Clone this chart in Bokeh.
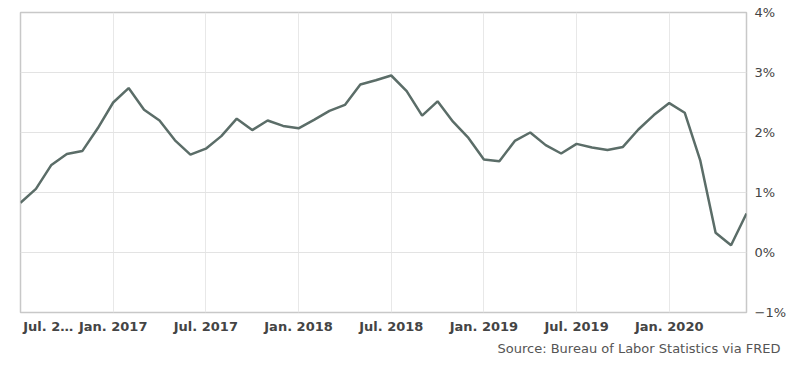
from bokeh.plotting import figure
from bokeh.models import FixedTicker, Title, LinearAxis, Grid
from bokeh.embed import file_html
from bokeh.resources import INLINE

start_year, start_month = 2016, 7
cpi_yoy = [0.83, 1.06, 1.46, 1.64, 1.69, 2.07, 2.50, 2.74, 2.38, 2.20, 1.87, 1.63,
           1.73, 1.94, 2.23, 2.04, 2.20, 2.11, 2.07, 2.21, 2.36, 2.46, 2.80, 2.87,
           2.95, 2.69, 2.28, 2.52, 2.18, 1.91, 1.55, 1.52, 1.86, 2.00, 1.79, 1.65,
           1.81, 1.75, 1.71, 1.76, 2.05, 2.29, 2.49, 2.33, 1.54, 0.33, 0.12, 0.65]
tick_months = [0, 6, 12, 18, 24, 30, 36, 42]
tick_labels = ["Jul. 2\u2026", "Jan. 2017", "Jul. 2017", "Jan. 2018", "Jul. 2018",
               "Jan. 2019", "Jul. 2019", "Jan. 2020"]
y_ticks = [-1, 0, 1, 2, 3, 4]
y_labels = ["\u22121%", "0%", "1%", "2%", "3%", "4%"]
source_text = "Source: Bureau of Labor Statistics via FRED"

x = list(range(len(cpi_yoy)))

p = figure(frame_width=726, frame_height=300, output_backend="svg", toolbar_location=None,
           x_range=(0, len(cpi_yoy) - 1), y_range=(-1, 4),
           x_axis_location=None, y_axis_location=None,
           min_border_left=20, min_border_top=12, min_border_right=8, min_border_bottom=8)
p.background_fill_color = "white"
p.border_fill_color = "white"
p.outline_line_color = "#c8c8c8"
p.outline_line_width = 1.5

# first label sits left-aligned at the plot edge: pad it with non-breaking spaces
x_overrides = {}
for i, (m, l) in enumerate(zip(tick_months, tick_labels)):
    x_overrides[m] = ("\u00a0" * 5 + l) if i == 0 else l

xaxis = LinearAxis(ticker=FixedTicker(ticks=tick_months), major_label_overrides=x_overrides)
yaxis = LinearAxis(ticker=FixedTicker(ticks=y_ticks),
                   major_label_overrides=dict(zip(y_ticks, y_labels)))
for ax in (xaxis, yaxis):
    ax.axis_line_color = None
    ax.major_tick_line_color = None
    ax.minor_tick_line_color = None
    ax.major_label_text_font = "DejaVu Sans"
    ax.major_label_text_font_size = "13px"
    ax.major_label_text_color = "#444444"
xaxis.major_label_text_font_style = "bold"
xaxis.major_label_standoff = 0
yaxis.major_label_standoff = 2
p.add_layout(xaxis, "below")
p.add_layout(yaxis, "right")

src = Title(text=source_text, align="right", text_font="DejaVu Sans",
            text_font_size="13px", text_font_style="normal", text_color="#555555",
            standoff=4, offset=-34)
p.add_layout(src, "below")

p.xgrid.grid_line_color = None
p.ygrid.grid_line_color = None
p.add_layout(Grid(dimension=0, ticker=xaxis.ticker, grid_line_color="#e8e8e8", grid_line_width=1))
p.add_layout(Grid(dimension=1, ticker=yaxis.ticker, grid_line_color="#e3e3e3", grid_line_width=1.2))

p.line(x, cpi_yoy, line_color="#5b6d68", line_width=2.5)

open("out.html", "w").write(file_html(p, INLINE))
